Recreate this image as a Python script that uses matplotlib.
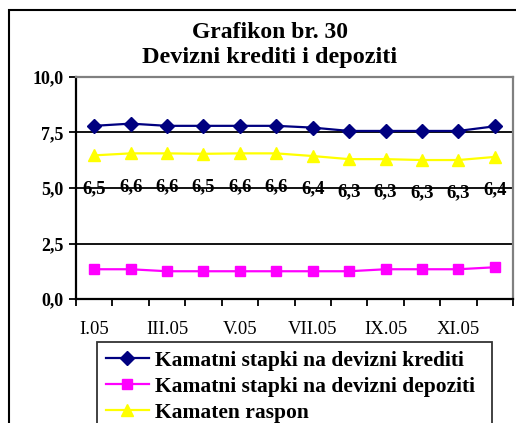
import matplotlib
matplotlib.use("Agg")
import matplotlib.pyplot as plt
from matplotlib.patches import Rectangle

months = ["I.05", "II.05", "III.05", "IV.05", "V.05", "VI.05",
          "VII.05", "VIII.05", "IX.05", "X.05", "XI.05", "XII.05"]
credits = [7.8, 7.9, 7.8, 7.8, 7.8, 7.8, 7.72, 7.57, 7.57, 7.57, 7.57, 7.78]
deposits = [1.34, 1.34, 1.25, 1.25, 1.25, 1.25, 1.25, 1.25, 1.34, 1.34, 1.34, 1.43]
spread = [6.47, 6.56, 6.56, 6.54, 6.56, 6.56, 6.44, 6.3, 6.3, 6.26, 6.26, 6.4]
y_ticks = [0.0, 2.5, 5.0, 7.5, 10.0]
y_tick_labels = ["0,0", "2,5", "5,0", "7,5", "10,0"]
series_names = ["Kamatni stapki na devizni krediti",
                "Kamatni stapki na devizni depoziti",
                "Kamaten raspon"]
title1 = "Grafikon br. 30"
title2 = "Devizni krediti i depoziti"

W, H = 516, 423
fig = plt.figure(figsize=(W / 100, H / 100), dpi=100)
serif = "Liberation Serif"

# outer chart border (cropped at right/bottom)
fig.patches.append(Rectangle((9 / W, -0.2), 1.2, 1 - 10 / H + 0.2,
                             transform=fig.transFigure, fill=False,
                             edgecolor="black", linewidth=1.5))

left, right, top, bottom = 76 / W, 513 / W, 77 / H, 299 / H
ax = fig.add_axes([left, 1 - bottom, right - left, bottom - top])

x = list(range(len(months)))
ax.plot(x, credits, color="#000080", marker="D", markersize=7, linewidth=1.6,
        label=series_names[0], zorder=4)
ax.plot(x, deposits, color="#FF00FF", marker="s", markersize=7, linewidth=1.6,
        label=series_names[1], zorder=4)
ax.plot(x, spread, color="#FFFF00", marker="^", markersize=9, linewidth=1.6,
        label=series_names[2], zorder=4)

for xi, v in zip(x, spread):
    ax.annotate(f"{v:.1f}".replace(".", ","), (xi, v), xytext=(0, -33),
                textcoords="offset pixels", ha="center", va="center",
                fontsize=13.5, fontweight="bold", family=serif, zorder=5)

ax.set_xlim(-0.5, len(months) - 0.5)
ax.set_ylim(0, 10)
for g in [2.5, 5.0, 7.5]:
    ax.axhline(g, color="black", linewidth=1.3, zorder=1)

ax.set_yticks(y_ticks)
ax.set_yticklabels(y_tick_labels, fontsize=13, fontweight="bold", family=serif)
ax.set_xticks([i - 0.5 for i in range(len(months) + 1)])
ax.set_xticklabels([])
ax.set_xticks(x[::2], minor=True)
ax.set_xticklabels(months[::2], minor=True, fontsize=13.5, family=serif)
ax.tick_params(axis="x", which="major", direction="out", length=5, width=1.3)
ax.tick_params(axis="x", which="minor", length=0, pad=16)
ax.tick_params(axis="y", direction="out", length=5, width=1.3, pad=4)

for s in ["left", "bottom"]:
    ax.spines[s].set_color("black")
    ax.spines[s].set_linewidth(1.6)
for s in ["top", "right"]:
    ax.spines[s].set_color("#808080")
    ax.spines[s].set_linewidth(1.6)

fig.text(270 / W, 1 - 33 / H, title1, ha="center", va="center",
         fontsize=17, fontweight="bold", family=serif)
fig.text(270 / W, 1 - 58 / H, title2, ha="center", va="center",
         fontsize=17.5, fontweight="bold", family=serif)

leg = fig.legend(loc="upper left",
                 bbox_to_anchor=(97 / W, 1 - 342 / H, (492 - 97) / W, 0.0),
                 mode="expand", prop={"family": serif, "weight": "bold", "size": 15.5},
                 handlelength=2.0, handletextpad=0.3, labelspacing=0.28,
                 borderpad=0.4, borderaxespad=0, fancybox=False, frameon=True)
leg.get_frame().set_edgecolor("black")
leg.get_frame().set_linewidth(1.3)

fig.savefig("out.png", dpi=100)
